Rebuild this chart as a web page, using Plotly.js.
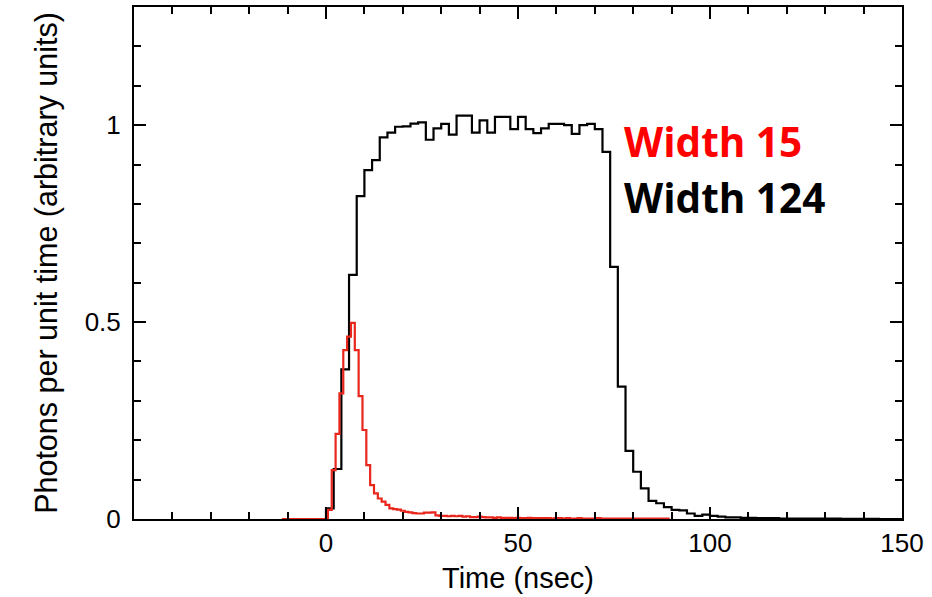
<!DOCTYPE html>
<html>
<head>
<meta charset="utf-8">
<script src="https://cdn.plot.ly/plotly-3.0.1.min.js"></script>
<style>html,body{margin:0;padding:0;background:#fff;}#chart{width:932px;height:597px;}</style>
</head>
<body>
<div id="chart"></div>
<script>
// Width 124 histogram: bins of 2 ns starting at 0 ns
var blackFirstEdge = 0;
var blackBinWidth = 2;
var blackValues = [
  0.027, 0.127, 0.38, 0.62, 0.82, 0.886, 0.911, 0.969, 0.981, 0.996,
  0.997, 1.004, 1.007, 0.963, 0.992, 1.003, 0.976, 1.024, 1.024, 0.981,
  1.012, 0.981, 1.021, 1.021, 0.990, 1.021, 0.990, 0.980, 0.992, 1.003,
  1.003, 1.000, 0.978, 1.000, 1.003, 0.990, 0.932, 0.640, 0.336, 0.173,
  0.120, 0.078, 0.046, 0.040, 0.030, 0.023, 0.022, 0.014, 0.008, 0.011,
  0.008, 0.006, 0.004, 0.004, 0.003, 0.003, 0.002, 0.002, 0.002, 0.001,
  0.001, 0.001, 0.001, 0.001, 0.001, 0.001, 0.001, 0.0005, 0.0005, 0.0005,
  0.0005, 0.0005, 0, 0, 0
];
// Width 15 histogram: bins of 1 ns starting at -11.5 ns
var redFirstEdge = -11.5;
var redBinWidth = 1;
var redValues = [
  0, 0, 0, 0, 0, 0, 0, 0, 0, 0, 0, 0,
  0.023, 0.124, 0.216, 0.319, 0.429, 0.463, 0.498, 0.429, 0.312, 0.226,
  0.137, 0.086, 0.065, 0.052, 0.044, 0.036, 0.027, 0.025, 0.024, 0.021,
  0.018, 0.017, 0.015, 0.014, 0.014, 0.016, 0.016, 0.017, 0.009, 0.008,
  0.008, 0.007, 0.008, 0.007, 0.008, 0.006, 0.007, 0.005, 0.005, 0.006,
  0.005, 0.004,
  0.004, 0.003, 0.004, 0.003, 0.003, 0.003, 0.002, 0.003, 0.002, 0.002,
  0.003, 0.002, 0.002, 0.002, 0.002, 0.002, 0.001, 0.002, 0.002, 0.001,
  0.002, 0.001, 0.001, 0.002, 0.001, 0.001, 0.001, 0.001, 0.002, 0.001,
  0.001, 0.001, 0.001, 0.001, 0.001, 0.001, 0.001, 0.001, 0.001, 0.001,
  0.001, 0.001, 0.001, 0.001, 0.001, 0.001, 0.001
];
var xTickVals = [0, 50, 100, 150];
var xTickText = ['0', '50', '100', '150'];
var yTickVals = [0, 0.5, 1];
var yTickText = ['0', '0.5', '1'];
var labels = ['Width 15', 'Width 124'];

function stepTrace(firstEdge, width, vals, color) {
  var xs = [firstEdge], ys = [0];
  for (var i = 0; i < vals.length; i++) {
    xs.push(firstEdge + i * width);
    ys.push(vals[i]);
  }
  xs.push(firstEdge + vals.length * width);
  ys.push(vals[vals.length - 1]);
  return {x: xs, y: ys, type: 'scatter', mode: 'lines',
          line: {shape: 'hv', color: color, width: 2.2}, hoverinfo: 'skip', showlegend: false};
}

var traces = [
  stepTrace(blackFirstEdge, blackBinWidth, blackValues, '#000000'),
  stepTrace(redFirstEdge, redBinWidth, redValues, '#e8261c')
];

var fontFam = '"Liberation Sans", Arial, sans-serif';
var layout = {
  width: 932, height: 597,
  margin: {l: 134, r: 30, t: 7, b: 78},
  paper_bgcolor: '#fff', plot_bgcolor: '#fff',
  font: {family: fontFam, color: '#000'},
  xaxis: {
    range: [-50, 150], showgrid: false, zeroline: false,
    showline: true, linecolor: '#000', linewidth: 2, mirror: 'ticks',
    ticks: 'inside', ticklen: 12, tickwidth: 2, tickcolor: '#000',
    tickmode: 'array', tickvals: xTickVals, ticktext: xTickText,
    tickfont: {size: 26, family: fontFam},
    minor: {tickmode: 'linear', tick0: 0, dtick: 10, ticks: 'inside', ticklen: 7, tickwidth: 2, tickcolor: '#000', showgrid: false},
    title: {text: 'Time (nsec)', font: {size: 29, family: fontFam}, standoff: 10}
  },
  yaxis: {
    range: [0, 1.3], showgrid: false, zeroline: false,
    showline: true, linecolor: '#000', linewidth: 2, mirror: 'ticks',
    ticks: 'inside', ticklen: 12, tickwidth: 2, tickcolor: '#000',
    tickmode: 'array', tickvals: yTickVals, ticktext: yTickText,
    tickfont: {size: 26, family: fontFam},
    ticklabelstandoff: 6,
    minor: {tickmode: 'linear', tick0: 0, dtick: 0.1, ticks: 'inside', ticklen: 7, tickwidth: 2, tickcolor: '#000', showgrid: false},
    title: {text: 'Photons per unit time (arbitrary units)', font: {size: 30.5, family: fontFam}, standoff: 18}
  },
  annotations: [
    {text: '<b>' + labels[0] + '</b>', xref: 'paper', yref: 'paper', x: 0.635, y: 0.738,
     xanchor: 'left', yanchor: 'middle', showarrow: false,
     font: {size: 40.5, color: '#ff0000', family: '"Open Sans", sans-serif'}},
    {text: '<b>' + labels[1] + '</b>', xref: 'paper', yref: 'paper', x: 0.635, y: 0.628,
     xanchor: 'left', yanchor: 'middle', showarrow: false,
     font: {size: 40.5, color: '#000000', family: '"Open Sans", sans-serif'}}
  ]
};

Plotly.newPlot('chart', traces, layout, {displayModeBar: false, staticPlot: true});
</script>
</body>
</html>
